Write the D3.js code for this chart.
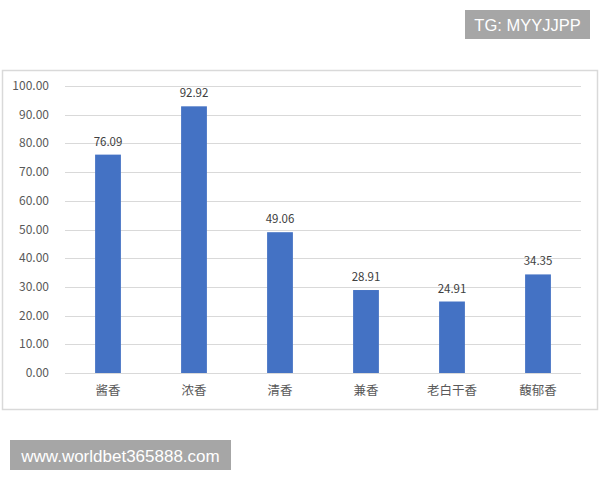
<!DOCTYPE html>
<html>
<head>
<meta charset="utf-8">
<script src="https://cdn.jsdelivr.net/npm/d3@7"></script>
<style>
  body { margin: 0; background: #fff; }
  svg { display: block; }
</style>
</head>
<body>
<svg width="600" height="480"></svg>
<script>
// categories and values
const categories = ["酱香", "浓香", "清香", "兼香", "老白干香", "馥郁香"];
const values = [76.09, 92.92, 49.06, 28.91, 24.91, 34.35];
const yTicks = [0, 10, 20, 30, 40, 50, 60, 70, 80, 90, 100];

const svg = d3.select("svg");
const font = "'Noto Sans CJK SC', 'Noto Sans', sans-serif";

// outer chart frame
svg.append("rect")
  .attr("x", 2.5).attr("y", 70.5)
  .attr("width", 595).attr("height", 339)
  .attr("fill", "#fff")
  .attr("stroke", "#d9d9d9")
  .attr("stroke-width", 1.5);

let x = d3.scaleBand()
  .domain(categories)
  .range([65, 581])
  .paddingInner(0.7)
  .paddingOuter(0.35);

let y = d3.scaleLinear().domain([0, 100]).range([373, 86]);

// gridlines
svg.append("g")
  .selectAll("line")
  .data(yTicks)
  .enter()
  .append("line")
  .attr("x1", 65).attr("x2", 581)
  .attr("y1", (d) => Math.round(y(d)) + 0.5)
  .attr("y2", (d) => Math.round(y(d)) + 0.5)
  .attr("stroke", "#d9d9d9")
  .attr("stroke-width", 1);

// y tick labels
svg.append("g")
  .selectAll("text")
  .data(yTicks)
  .enter()
  .append("text")
  .attr("x", 49)
  .attr("y", (d) => y(d) + 4)
  .attr("text-anchor", "end")
  .attr("font-family", font)
  .attr("font-size", 12)
  .attr("fill", "#595959")
  .text((d) => d.toFixed(2));

// bars
svg.append("g")
  .selectAll("rect")
  .data(values)
  .enter()
  .append("rect")
  .attr("x", (d, i) => x(categories[i]))
  .attr("y", (d) => y(d))
  .attr("width", x.bandwidth())
  .attr("height", (d) => y(0) - y(d))
  .attr("fill", "#4472C4");

// value labels
svg.append("g")
  .selectAll("text")
  .data(values)
  .enter()
  .append("text")
  .attr("x", (d, i) => x(categories[i]) + x.bandwidth() / 2)
  .attr("y", (d) => y(d) - 9)
  .attr("text-anchor", "middle")
  .attr("font-family", font)
  .attr("font-size", 11.5)
  .attr("fill", "#404040")
  .text((d) => d.toFixed(2));

// category labels
svg.append("g")
  .selectAll("text")
  .data(categories)
  .enter()
  .append("text")
  .attr("x", (d) => x(d) + x.bandwidth() / 2)
  .attr("y", 395)
  .attr("text-anchor", "middle")
  .attr("font-family", font)
  .attr("font-size", 12.5)
  .attr("fill", "#595959")
  .text((d) => d);

// watermark boxes
svg.append("rect")
  .attr("x", 465).attr("y", 10)
  .attr("width", 125).attr("height", 29)
  .attr("fill", "#a6a6a6");
svg.append("text")
  .attr("x", 527.5).attr("y", 30.5)
  .attr("text-anchor", "middle")
  .attr("font-family", "'Liberation Sans', Arial, sans-serif")
  .attr("font-size", 16.5)
  .attr("fill", "#fff")
  .text("TG: MYYJJPP");

svg.append("rect")
  .attr("x", 10).attr("y", 440)
  .attr("width", 221).attr("height", 30)
  .attr("fill", "#a6a6a6");
svg.append("text")
  .attr("x", 120.5).attr("y", 461.5)
  .attr("text-anchor", "middle")
  .attr("font-family", "'Liberation Sans', Arial, sans-serif")
  .attr("font-size", 17)
  .attr("fill", "#fff")
  .text("www.worldbet365888.com");
</script>
</body>
</html>
